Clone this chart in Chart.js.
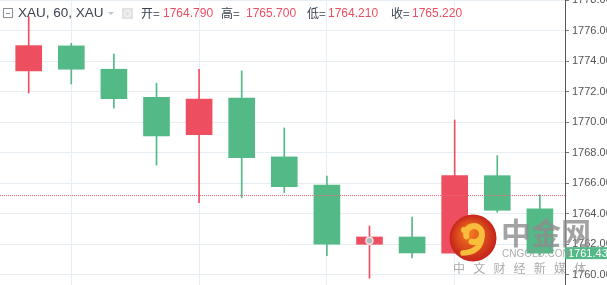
<!DOCTYPE html>
<html>
<head>
<meta charset="utf-8">
<script src="https://cdn.jsdelivr.net/npm/chart.js@4.4.1/dist/chart.umd.min.js"></script>
<style>
  html, body { margin: 0; padding: 0; background: #fff; }
  #wrap { position: relative; width: 607px; height: 285px; overflow: hidden; }
  #kline { display: block; }
  .hd { position: absolute; top: 5px; line-height: 16px; white-space: nowrap;
        font-family: "Liberation Sans", Arial, sans-serif; }
  .ttl { font-size: 13.5px; color: #3b4250; }
  .lbl { font-size: 12px; color: #3b4250; font-family: "Noto Sans CJK SC", "Liberation Sans", sans-serif; }
  .val { font-size: 12px; color: #ee4f63; }
  .ico-box { position: absolute; left: 3px; top: 8px; width: 8px; height: 8px; border: 1px solid #8a8f96; }
  .ico-box:after { content: ""; position: absolute; left: 2px; top: 3.5px; width: 4px; height: 1px; background: #8a8f96; }
  .ico-arrow { position: absolute; left: 108px; top: 12px; width: 0; height: 0;
               border-left: 3px solid transparent; border-right: 3px solid transparent; border-top: 3px solid #c4c8cc; }
  .ico-eye { position: absolute; left: 122px; top: 8px; width: 11px; height: 11px; background: #e2e2e2; }
  .ico-eye:after { content: ""; position: absolute; left: 2px; top: 2px; width: 5px; height: 5px;
                   border: 1px solid #fff; border-radius: 50%; }
</style>
</head>
<body>
<div id="wrap">
  <canvas id="kline" width="607" height="285"></canvas>
  <div class="ico-box"></div>
  <div class="hd ttl" style="left:18px">XAU, 60, XAU</div>
  <div class="ico-arrow"></div>
  <div class="ico-eye"></div>
  <div class="hd lbl" style="left:141px">开=</div>
  <div class="hd val" style="left:163px">1764.790</div>
  <div class="hd lbl" style="left:221px">高=</div>
  <div class="hd val" style="left:246px">1765.700</div>
  <div class="hd lbl" style="left:307px">低=</div>
  <div class="hd val" style="left:328px">1764.210</div>
  <div class="hd lbl" style="left:391px">收=</div>
  <div class="hd val" style="left:412px">1765.220</div>
</div>
<script>
// hourly XAU candles
const opens  = [1773.38, 1775.02, 1773.49, 1771.65, 1769.20, 1771.59, 1767.74, 1765.90, 1762.01, 1762.49, 1761.42, 1766.51, 1764.33];
const highs  = [1776.93, 1775.19, 1774.49, 1772.57, 1773.49, 1773.38, 1769.64, 1766.49, 1763.21, 1763.80, 1770.16, 1767.82, 1765.25];
const lows   = [1771.93, 1772.52, 1770.93, 1767.20, 1764.74, 1765.07, 1765.40, 1761.27, 1759.78, 1761.11, 1761.42, 1764.11, 1761.30];
const closes = [1775.04, 1773.49, 1771.56, 1769.11, 1771.54, 1767.69, 1765.79, 1762.01, 1762.49, 1761.44, 1766.51, 1764.24, 1761.43];
const yTicks = [1760, 1762, 1764, 1766, 1768, 1770, 1772, 1774, 1776, 1778];
const xGridTicks = [1, 4, 7, 10];
const markerPoints = [{ x: 8, y: 1762.25 }];
const priceLine = 1765.25;
const lastPrice = 1761.43;

const UP = '#ee4f60';
const DOWN = '#53b987';
const candleColor = opens.map((o, i) => closes[i] >= o ? UP : DOWN);

/* ── overlays: price line, last price tag, watermark ── */
const overlayPlugin = {
    id: 'overlay',
    afterDatasetsDraw(chart) {
        const { ctx, chartArea, scales } = chart;
        const y = Math.round(scales.y.getPixelForValue(priceLine)) + 0.5;
        ctx.save();
        ctx.strokeStyle = '#ef6a7a';
        ctx.lineWidth = 1;
        ctx.setLineDash([1, 1]);
        ctx.beginPath();
        ctx.moveTo(chartArea.left, y);
        ctx.lineTo(chartArea.right, y);
        ctx.stroke();
        ctx.restore();
    },
    afterDraw(chart) {
        const { ctx, chartArea, scales } = chart;
        ctx.save();
        // last price tag
        const ly = scales.y.getPixelForValue(lastPrice);
        ctx.fillStyle = DOWN;
        ctx.fillRect(chartArea.right, ly - 6, 42, 12);
        ctx.fillStyle = '#fff';
        ctx.font = '11px "Liberation Sans", Arial, sans-serif';
        ctx.textBaseline = 'middle';
        ctx.fillText(lastPrice.toFixed(3), chartArea.right + 3, ly + 0.5);

        // watermark logo
        const cx = 473, cy = 238;
        const g = ctx.createRadialGradient(cx - 4, cy - 6, 3, cx, cy, 24);
        g.addColorStop(0, '#f2761e');
        g.addColorStop(1, '#c4221b');
        ctx.fillStyle = g;
        ctx.beginPath();
        ctx.arc(cx, cy, 23.5, 0, Math.PI * 2);
        ctx.fill();
        ctx.strokeStyle = '#f8bd3a';
        ctx.lineCap = 'round';
        ctx.lineWidth = 6;
        ctx.beginPath();
        ctx.arc(cx + 1, cy - 4, 8, Math.PI * 0.9, Math.PI * 2.6);
        ctx.stroke();
        ctx.lineWidth = 5.5;
        ctx.beginPath();
        ctx.moveTo(cx + 9, cy - 2);
        ctx.quadraticCurveTo(cx + 8, cy + 14, cx - 10, cy + 15);
        ctx.stroke();
        ctx.fillStyle = '#f8bd3a';
        ctx.beginPath();
        ctx.arc(cx - 9, cy - 8, 3, 0, Math.PI * 2);
        ctx.fill();

        // watermark text
        ctx.fillStyle = 'rgba(140,140,140,0.8)';
        ctx.font = 'bold 30px "Noto Sans CJK SC", sans-serif';
        ctx.textBaseline = 'middle';
        ctx.fillText('中金网', 501, 233);
        ctx.font = '10px "Liberation Sans", Arial, sans-serif';
        ctx.fillStyle = 'rgba(150,150,150,0.8)';
        ctx.fillText('CNGOLD.COM', 502, 254);
        ctx.font = '12px "Noto Sans CJK SC", sans-serif';
        const slogan = ['中', '文', '财', '经', '新', '媒', '体'];
        slogan.forEach((ch, i) => ctx.fillText(ch, 453 + i * 20.2, 268));
        ctx.restore();
    }
};

new Chart(document.getElementById('kline'), {
    type: 'bar',
    data: {
        datasets: [
            {
                type: 'scatter',
                data: markerPoints,
                pointRadius: 3.5,
                pointBackgroundColor: '#b9b9b9',
                pointBorderColor: '#e8e8e8',
                pointBorderWidth: 1.5,
                order: 0
            },
            {
                label: 'body',
                data: opens.map((o, i) => ({ x: i, y: [o, closes[i]] })),
                backgroundColor: candleColor,
                borderWidth: 0,
                barThickness: 26,
                grouped: false,
                order: 1
            },
            {
                label: 'wick',
                data: lows.map((l, i) => ({ x: i, y: [l, highs[i]] })),
                backgroundColor: candleColor,
                borderWidth: 0,
                barThickness: 1,
                grouped: false,
                order: 2
            }
        ]
    },
    options: {
        responsive: false,
        animation: false,
        layout: { padding: 0, autoPadding: false },
        plugins: { legend: { display: false }, tooltip: { enabled: false } },
        scales: {
            x: {
                type: 'linear',
                offset: false,
                min: -0.674,
                max: 12.59,
                afterBuildTicks: s => { s.ticks = xGridTicks.map(v => ({ value: v })); },
                afterFit: s => { s.height = 0; s.paddingLeft = 0; s.paddingRight = 0; s.paddingTop = 0; s.paddingBottom = 0; },
                ticks: { display: false },
                grid: { color: '#e7eef3', drawTicks: false, offset: false },
                border: { display: false }
            },
            y: {
                position: 'right',
                min: 1759.34,
                max: 1778.03,
                afterBuildTicks: s => { s.ticks = yTicks.map(v => ({ value: v })); },
                afterFit: s => { s.width = 42; s.paddingTop = 0; s.paddingBottom = 0; },
                ticks: {
                    padding: 3,
                    color: '#555',
                    font: { family: '"Liberation Sans", Arial, sans-serif', size: 11 },
                    callback: v => Number(v).toFixed(3)
                },
                grid: { color: '#e7eef3', tickColor: '#777', tickLength: 4 },
                border: { display: true, color: '#555', width: 1 }
            }
        }
    },
    plugins: [overlayPlugin]
});
</script>
</body>
</html>
